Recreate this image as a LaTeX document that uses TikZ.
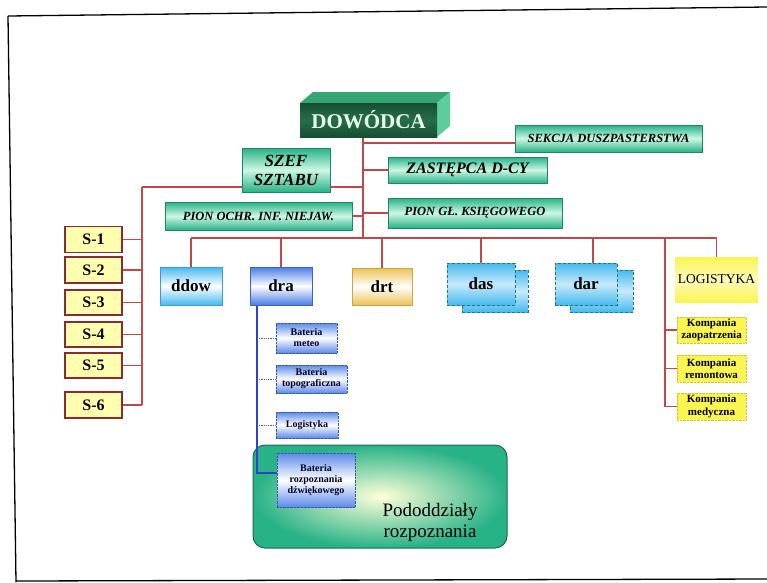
\documentclass[tikz,border=0pt]{standalone}
\usepackage{fontspec}
\setmainfont{Liberation Serif}
\pgfdeclarelayer{back}
\pgfdeclarelayer{lines}
\pgfsetlayers{back,lines,main}

\definecolor{tealA}{RGB}{40,178,135}
\definecolor{mint}{RGB}{205,247,228}
\definecolor{redline}{RGB}{192,72,72}
\definecolor{skyA}{RGB}{70,185,240}
\definecolor{blueA}{RGB}{75,125,230}
\definecolor{ochre}{RGB}{238,195,85}
\definecolor{yell}{RGB}{250,245,80}
\definecolor{pale}{RGB}{255,255,175}
\definecolor{sbrd}{RGB}{135,45,45}
\definecolor{dkgreen}{RGB}{22,78,50}
\definecolor{dkgreenB}{RGB}{38,110,74}
\definecolor{topface}{RGB}{55,165,115}
\definecolor{sideface}{RGB}{95,205,155}
\definecolor{linkblue}{RGB}{45,65,205}

\tikzset{
  box/.style={rectangle, inner sep=0pt, align=center, text=black},
  greenbox/.style={box, top color=tealA, bottom color=tealA, middle color=mint,
    draw=tealA!75!black, font=\bfseries\itshape},
  ddowbox/.style={box, top color=skyA, bottom color=skyA, middle color=white,
    draw=skyA!85!black, font=\bfseries\fontsize{17}{17}\selectfont},
  drabox/.style={box, top color=blueA, bottom color=blueA, middle color=white,
    draw=blueA!80!black, font=\bfseries\fontsize{17}{17}\selectfont},
  drtbox/.style={box, top color=ochre, bottom color=ochre, middle color=white,
    draw=ochre!85!black, font=\bfseries\fontsize{17}{17}\selectfont},
  dasbox/.style={box, top color=skyA, bottom color=skyA, middle color=white!70!skyA,
    draw=tealA!70!black, densely dashed, font=\bfseries\fontsize{17}{17}\selectfont},
  logbox/.style={box, top color=yell, bottom color=yell, middle color=yell!40!white,
    font=\fontsize{13.5}{13.5}\selectfont},
  kbox/.style={box, fill=yell, draw=yell!80!black, densely dotted,
    font=\bfseries\fontsize{11}{12.5}\selectfont},
  sbox/.style={box, fill=pale, draw=sbrd, line width=1.3pt,
    font=\bfseries\fontsize{16}{16}\selectfont},
  batbox/.style={box, top color=blueA!90!white, bottom color=blueA!90!white,
    middle color=white, draw=blueA!70!black, densely dotted,
    font=\bfseries\fontsize{10}{11}\selectfont, text=black!85!blue},
  redlink/.style={draw=redline, line width=1.6pt},
  bluelink/.style={draw=linkblue, line width=1.3pt},
  twig/.style={draw=linkblue!60!gray, line width=0.8pt, densely dotted}
}

\begin{document}
\begin{tikzpicture}[x=1pt, y=-1pt]
\useasboundingbox (0,0) rectangle (767,582);

% outer frame
\draw[line width=1.3pt] (8,16) -- (767,7);
\draw[line width=1.3pt] (8,16) -- (16,582);
\draw[line width=1.3pt] (16,581) -- (767,579);

% large rounded group panel
\begin{pgfonlayer}{back}
\node[box, rounded corners=12pt, shading=radial, inner color=white!85!yellow,
      outer color=tealA, draw=tealA!60!black, line width=1pt,
      minimum width=254pt, minimum height=103pt] (grp) at (380,496.5) {};
\end{pgfonlayer}
\node[align=center, font=\fontsize{19}{21}\selectfont] (grplabel) at (430,522) {Pododdziały\\rozpoznania};

% commander block
\fill[topface] (300,103) -- (313,92) -- (450,92) -- (437,103) -- cycle;
\fill[sideface] (437,103) -- (450,92) -- (450,126) -- (437,137) -- cycle;
\node[box, top color=dkgreen, bottom color=dkgreen, middle color=dkgreenB,
      minimum width=137pt, minimum height=34pt, text=white!92!green,
      font=\bfseries\fontsize{21}{21}\selectfont] (dow) at (368.5,120) {DOWÓDCA};

% staff level
\node[greenbox, minimum width=187pt, minimum height=27pt, font=\bfseries\itshape\fontsize{12.5}{12.5}\selectfont]
  (sek) at (608.5,138.5) {SEKCJA DUSZPASTERSTWA};
\node[greenbox, minimum width=88pt, minimum height=44pt, font=\bfseries\itshape\fontsize{17}{19}\selectfont]
  (szef) at (286,170) {SZEF\\SZTABU};
\node[greenbox, minimum width=159pt, minimum height=26pt, font=\bfseries\itshape\fontsize{16}{16}\selectfont]
  (zast) at (467.5,170) {ZASTĘPCA D-CY};
\node[greenbox, minimum width=174pt, minimum height=30pt, font=\bfseries\itshape\fontsize{12.5}{12.5}\selectfont]
  (pgk) at (475,213) {PION GŁ. KSIĘGOWEGO};
\node[greenbox, minimum width=187pt, minimum height=28pt, font=\bfseries\itshape\fontsize{12.5}{12.5}\selectfont]
  (poin) at (258.5,216) {PION OCHR. INF. NIEJAW.};

% divisions
\node[ddowbox, minimum width=62pt, minimum height=38pt] (ddow) at (191,286) {ddow};
\node[drabox, minimum width=62pt, minimum height=38pt] (dra) at (281,286) {dra};
\node[drtbox, minimum width=60pt, minimum height=37pt] (drt) at (382,286.5) {drt};
\node[dasbox, minimum width=66pt, minimum height=42pt] (dasb) at (495,291) {};
\node[dasbox, minimum width=68pt, minimum height=42pt] (das) at (481,284) {das};
\node[dasbox, minimum width=63pt, minimum height=42pt] (darb) at (601.5,291) {};
\node[dasbox, minimum width=62pt, minimum height=42pt] (dar) at (586,284) {dar};
\node[logbox, minimum width=83pt, minimum height=45pt] (log) at (716.5,279.5) {LOGISTYKA};

% logistics companies
\node[kbox, minimum width=69pt, minimum height=26pt] (k1) at (711.5,330) {Kompania\\zaopatrzenia};
\node[kbox, minimum width=69pt, minimum height=27pt] (k2) at (711.5,368.5) {Kompania\\remontowa};
\node[kbox, minimum width=69pt, minimum height=27pt] (k3) at (711.5,406.5) {Kompania\\medyczna};

% staff sections
\node[sbox, minimum width=57pt, minimum height=26pt] (s1) at (93.5,239.5) {S-1};
\node[sbox, minimum width=57pt, minimum height=26pt] (s2) at (93.5,270) {S-2};
\node[sbox, minimum width=57pt, minimum height=25pt] (s3) at (93.5,302.5) {S-3};
\node[sbox, minimum width=57pt, minimum height=25pt] (s4) at (93.5,334.5) {S-4};
\node[sbox, minimum width=57pt, minimum height=25pt] (s5) at (93.5,365.5) {S-5};
\node[sbox, minimum width=57pt, minimum height=26pt] (s6) at (93.5,405) {S-6};

% batteries under dra
\node[batbox, minimum width=61pt, minimum height=30pt] (b1) at (306.5,338) {Bateria\\meteo};
\node[batbox, minimum width=71pt, minimum height=28pt] (b2) at (311.5,379) {Bateria\\topograficzna};
\node[batbox, minimum width=62pt, minimum height=26pt] (b3) at (307,425) {Logistyka};
\node[batbox, minimum width=78pt, minimum height=54pt] (b4) at (316,480) {Bateria\\rozpoznania\\dźwiękowego};

% connector junctions
\coordinate (trunk) at (363,238);
\coordinate (sbus) at (142,187);
\coordinate (kbus) at (665,238);
\coordinate (dbus) at (257,473);

\begin{pgfonlayer}{lines}
  \draw[redlink] (dow.south -| trunk) -- (trunk);
  \draw[redlink] (sek.west |- 0,143) -- (trunk |- 0,143);
  \draw[redlink] (sbus) -- (sbus -| trunk);
  \draw[redlink] (sbus) -- (sbus |- s6.east);
  \foreach \s in {s1,s2,s3,s4,s5,s6}
    \draw[redlink] (\s.east) -- (\s.east -| sbus);
  \draw[redlink] (zast.west) -- (zast.west -| trunk);
  \draw[redlink] (pgk.west) -- (pgk.west -| trunk);
  \draw[redlink] (poin.east) -- (poin.east -| trunk);
  \draw[redlink] (ddow.north |- trunk) -- (log.north |- trunk);
  \foreach \d in {ddow,dra,drt,das,log}
    \draw[redlink] (\d.north |- trunk) -- (\d.north);
  \draw[redlink] ([xshift=7pt]dar.north |- trunk) -- ([xshift=7pt]dar.north);
  \draw[redlink] (kbus) -- (kbus |- k3.west);
  \foreach \k in {k1,k2,k3}
    \draw[redlink] (\k.west) -- (\k.west -| kbus);
  \draw[bluelink] (dra.south -| dbus) -- (dbus) -- (dbus -| b4.west);
  \foreach \b in {b1,b2,b3}
    \draw[twig] (\b.west) -- (\b.west -| dbus);
\end{pgfonlayer}
\end{tikzpicture}
\end{document}
